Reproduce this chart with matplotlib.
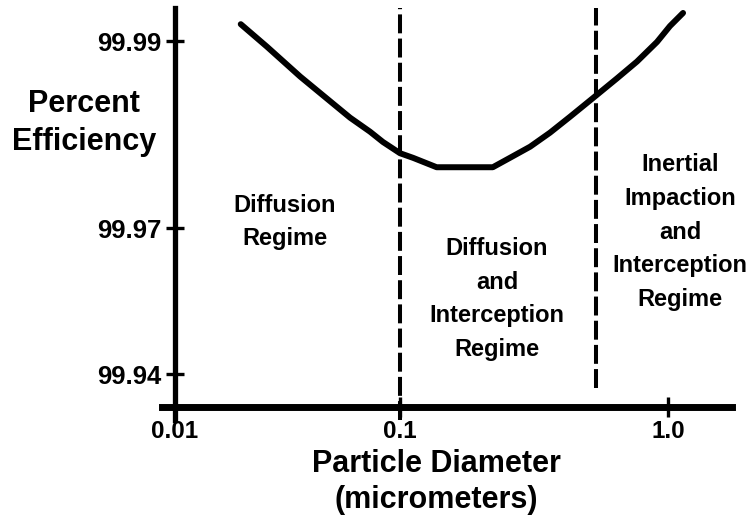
import numpy as np
import matplotlib
matplotlib.use('Agg')
import matplotlib.pyplot as plt

plt.rcParams['font.family'] = ['Liberation Sans', 'DejaVu Sans']
plt.rcParams['font.weight'] = 'bold'

# curve
diameter = [0.0196, 0.0256, 0.0360, 0.0504, 0.0600, 0.0736, 0.0840, 0.100,
            0.112, 0.137, 0.222, 0.257, 0.306, 0.363, 0.431, 0.525, 0.645,
            0.766, 0.910, 1.017, 1.138]
efficiency = [99.9918, 99.9894, 99.9862, 99.9833, 99.9818, 99.9803, 99.9792,
              99.9780, 99.9775, 99.9765, 99.9765, 99.9775, 99.9787, 99.9802,
              99.9819, 99.9839, 99.9860, 99.9878, 99.9899, 99.9916, 99.9930]

x_ticks = [0.01, 0.1, 1.0]
x_tick_labels = ['0.01', '0.1', '1.0']
y_ticks = [99.94, 99.97, 99.99]
y_tick_labels = ['99.94', '99.97', '99.99']
boundaries = [0.1, 0.54]
regimes = ['Diffusion\nRegime',
           'Diffusion\nand\nInterception\nRegime',
           'Inertial\nImpaction\nand\nInterception\nRegime']

# the drawing is a sketch: decades and ticks are not evenly spaced,
# so use piecewise scales that follow it
X_LOG = [-2, -1, 0]
X_POS = [0, 225, 493]
Y_VAL = [99.94, 99.97, 99.99]
Y_POS = [0, 146, 333]


def pw(v, xp, fp):
    v = np.asarray(v, dtype=float)
    out = np.interp(v, xp, fp)
    lo = fp[0] + (v - xp[0]) * (fp[1] - fp[0]) / (xp[1] - xp[0])
    hi = fp[-1] + (v - xp[-1]) * (fp[-1] - fp[-2]) / (xp[-1] - xp[-2])
    out = np.where(v < xp[0], lo, out)
    out = np.where(v > xp[-1], hi, out)
    return out


def fwd_x(x):
    return pw(np.log10(np.clip(x, 1e-12, None)), X_LOG, X_POS)


def inv_x(p):
    return 10 ** pw(p, X_POS, X_LOG)


def fwd_y(e):
    return pw(e, Y_VAL, Y_POS)


def inv_y(p):
    return pw(p, Y_POS, Y_VAL)


fig = plt.figure(figsize=(7.56, 5.22), dpi=100)
ax = fig.add_axes([162 / 756, 102 / 522, 570 / 756, 412 / 522])
ax.set_xscale('function', functions=(fwd_x, inv_x))
ax.set_yscale('function', functions=(fwd_y, inv_y))
ax.set_xlim(0.008755, 1.733)
ax.set_ylim(99.93055, 99.99353)

ax.plot(diameter, efficiency, color='black', lw=4.3,
        solid_capstyle='round', solid_joinstyle='round')

ax.axvline(boundaries[0], ymin=0, ymax=1, color='black', lw=2.9,
           dashes=(4.7, 1.3))
ax.axvline(boundaries[1], ymin=0.078, ymax=1, color='black', lw=2.9,
           dashes=(4.7, 1.3))

for s in ['top', 'right']:
    ax.spines[s].set_visible(False)
ax.spines['left'].set_position(('data', 0.01))
ax.spines['bottom'].set_position(('data', 99.9332))
ax.spines['left'].set_linewidth(3.8)
ax.spines['bottom'].set_linewidth(5.0)

ax.set_xticks(x_ticks)
ax.set_xticklabels(x_tick_labels)
ax.set_yticks(y_ticks)
ax.set_yticklabels(y_tick_labels)
ax.minorticks_off()
ax.tick_params(axis='both', direction='inout', width=2.4)
ax.tick_params(axis='y', length=13, pad=3, labelsize=18.5)
ax.tick_params(axis='x', length=14, pad=2, labelsize=17.5)

text_kw = dict(ha='center', va='center', fontsize=17, fontweight='bold',
               linespacing=1.6, transform=ax.transAxes)
ax.text(0.2158, 0.4806, regimes[0], **text_kw)
ax.text(0.5877, 0.2937, regimes[1], **text_kw)
ax.text(0.9088, 0.4563, regimes[2], **text_kw)

fig.text(84 / 756, 1 - 123 / 522, 'Percent\nEfficiency', ha='center',
         va='center', fontsize=22, fontweight='bold', linespacing=1.35)
fig.text(436 / 756, 1 - 482 / 522, 'Particle Diameter\n(micrometers)',
         ha='center', va='center', fontsize=22, fontweight='bold',
         linespacing=1.25)

fig.savefig('out.png', dpi=100)
